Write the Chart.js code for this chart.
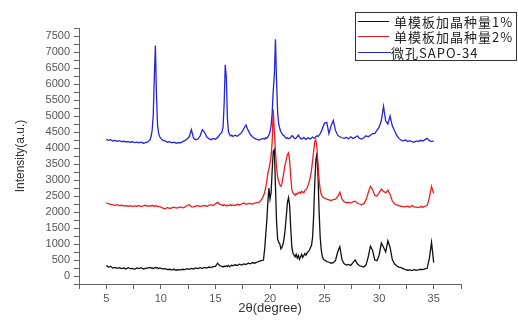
<!DOCTYPE html>
<html>
<head>
<meta charset="utf-8">
<script src="https://cdn.jsdelivr.net/npm/chart.js@4.4.1/dist/chart.umd.min.js"></script>
<style>
  html, body { margin: 0; padding: 0; background: #fff; }
  #wrap { width: 518px; height: 325px; position: relative; }
</style>
</head>
<body>
<div id="wrap"><canvas id="c" width="518" height="325"></canvas></div>
<script>
// 2θ angles (degrees)
const angles = [
  5.0,5.2,5.4,5.6,5.8,6.0,6.2,6.4,6.6,6.8,7.0,7.2,7.4,7.6,7.8,8.0,8.2,8.4,8.6,8.8,
  9.0,9.1,9.2,9.3,9.4,9.5,9.6,9.7,9.8,9.9,
  10.0,10.2,10.4,10.6,10.8,11.0,11.2,11.4,11.6,11.8,12.0,12.2,12.4,12.6,12.8,13.0,13.2,13.4,13.6,13.8,14.0,14.2,14.4,14.6,14.8,15.0,15.2,15.4,
  15.6,15.7,15.8,15.9,16.0,16.1,16.2,16.3,16.4,16.5,
  16.6,16.8,17.0,17.2,17.4,17.6,17.8,18.0,18.2,18.4,18.6,18.8,19.0,19.2,
  19.4,19.5,19.6,19.7,19.8,19.9,
  20.0,20.1,20.2,20.3,20.4,20.5,20.6,20.7,20.8,20.9,
  21.0,21.1,21.2,21.3,21.4,21.5,21.6,21.7,21.8,21.9,
  22.0,22.1,22.2,22.3,22.4,22.5,22.6,22.7,22.8,22.9,
  23.0,23.1,23.2,23.3,23.4,23.5,23.6,23.7,23.8,23.9,
  24.0,24.1,24.2,24.3,24.4,24.5,24.6,24.7,24.8,24.9,
  25.0,25.2,25.4,25.6,25.8,26.0,26.2,26.4,26.6,26.8,
  27.0,27.2,27.4,27.6,27.8,28.0,28.2,28.4,28.6,28.8,
  29.0,29.2,29.4,29.6,29.8,30.0,30.2,30.4,30.6,30.8,
  31.0,31.2,31.4,31.6,31.8,32.0,32.2,32.4,32.6,32.8,
  33.0,33.2,33.4,33.6,33.8,34.0,34.2,34.4,34.6,34.8,
  35.0
];

// 单模板加晶种量1% (black)
const seed1 = [
  330,280,300,250,270,240,260,230,250,220,260,230,240,210,250,230,260,220,240,250,
  270,240,260,230,250,270,240,260,230,250,
  240,220,230,200,210,190,210,180,200,190,210,200,230,210,240,220,250,230,260,240,270,250,280,260,290,300,400,320,
  300,280,310,290,320,300,330,290,310,340,
  320,350,330,370,340,380,360,400,380,420,400,430,460,480,
  500,800,1250,1700,2300,2750,
  2400,2600,3300,3900,3950,2800,1700,1150,1050,1000,
  850,900,1000,1200,1500,1900,2300,2450,2200,1500,
  900,720,650,600,680,560,640,520,600,680,
  580,640,700,650,720,760,800,880,950,1200,
  1900,2900,3600,3850,3100,2000,1200,800,600,520,
  500,450,430,400,420,480,750,920,500,380,
  340,360,330,420,500,380,320,300,280,350,
  600,930,800,500,480,650,1030,900,750,1100,
  900,520,380,320,280,260,230,200,180,190,
  170,200,180,190,210,200,220,240,550,1050,
  420
];

// 单模板加晶种量2% (red)
const seed2 = [
  2290,2260,2240,2220,2210,2230,2200,2210,2190,2200,2180,2200,2170,2190,2180,2200,2170,2190,2210,2180,
  2200,2180,2210,2190,2170,2200,2180,2190,2170,2160,
  2150,2120,2100,2140,2110,2130,2150,2120,2140,2160,2130,2150,2200,2230,2170,2160,2180,2200,2170,2190,2200,2180,2210,2230,2200,2260,2300,2240,
  2220,2200,2230,2210,2190,2220,2200,2210,2230,2200,
  2220,2200,2240,2220,2250,2280,2240,2260,2270,2250,2280,2290,2310,2380,
  2500,2600,2750,2950,3200,3350,
  3500,3750,4200,5200,4500,3900,3400,3100,2950,2850,
  2800,2900,3100,3300,3500,3650,3800,3850,3600,3100,
  2700,2600,2560,2520,2580,2550,2600,2620,2580,2650,
  2620,2600,2680,2700,2750,2850,2950,3100,3300,3600,
  3900,4200,4250,4000,3500,3000,2700,2550,2480,2450,
  2440,2400,2380,2360,2390,2400,2480,2620,2400,2320,
  2290,2300,2280,2320,2340,2280,2250,2230,2260,2380,
  2600,2800,2700,2520,2500,2600,2720,2650,2600,2680,
  2550,2350,2260,2220,2200,2180,2170,2160,2180,2150,
  2200,2160,2150,2140,2170,2150,2180,2200,2450,2800,
  2580
];

// 微孔SAPO-34 (blue)
const sapo34 = [
  4270,4240,4260,4220,4240,4210,4230,4200,4210,4190,4200,4180,4195,4170,4185,4160,4180,4150,4170,4190,
  4250,4350,4550,5000,6200,7200,5600,4700,4450,4350,
  4300,4240,4220,4180,4200,4160,4180,4150,4170,4160,4200,4230,4280,4350,4570,4300,4260,4280,4380,4570,4500,4350,4290,4260,4300,4270,4330,4420,
  4500,4650,5400,6600,6200,4900,4500,4420,4380,4400,
  4360,4400,4370,4420,4480,4600,4720,4550,4420,4350,4300,4270,4250,4280,
  4300,4280,4320,4300,4350,4400,
  4500,4700,5100,5800,6300,7400,6100,5100,4750,4600,
  4500,4450,4400,4380,4330,4300,4320,4290,4310,4330,
  4380,4370,4320,4290,4310,4360,4400,4340,4300,4280,
  4300,4330,4300,4270,4290,4320,4300,4280,4310,4340,
  4320,4300,4350,4380,4360,4400,4450,4520,4600,4700,
  4780,4800,4450,4700,4860,4550,4400,4350,4320,4300,
  4330,4290,4350,4300,4330,4380,4300,4280,4320,4380,
  4350,4400,4450,4450,4550,4650,4850,5300,4850,4750,
  5000,4700,4550,4400,4300,4250,4220,4260,4200,4230,
  4200,4180,4220,4200,4240,4220,4260,4300,4230,4200,
  4220
];

const seriesNames = ['单模板加晶种量1%', '单模板加晶种量2%', '微孔SAPO-34'];
const seriesColors = ['#111111', '#ee1c1c', '#2424dc'];
const xTitle = '2θ(degree)';
const yTitle = 'Intensity(a.u.)';

function pts(vals) { return vals.map((v, i) => ({ x: angles[i], y: v })); }

const boxLegend = {
  id: 'boxLegend',
  afterDraw(chart) {
    const ctx = chart.ctx;
    ctx.save();
    ctx.strokeStyle = '#333';
    ctx.lineWidth = 1;
    ctx.strokeRect(355.5, 12.5, 161, 48);
    const rows = [21, 36, 52];
    const lineEnd = [389, 389, 391];
    const textX = [394, 394, 391];
    ctx.font = '13px "Noto Sans CJK SC", sans-serif';
    ctx.textBaseline = 'middle';
    ctx.textAlign = 'left';
    try { ctx.letterSpacing = '1px'; } catch (e) {}
    for (let i = 0; i < seriesNames.length; i++) {
      ctx.strokeStyle = seriesColors[i];
      ctx.lineWidth = 1;
      ctx.beginPath();
      ctx.moveTo(358, rows[i] + 0.5);
      ctx.lineTo(lineEnd[i], rows[i] + 0.5);
      ctx.stroke();
      ctx.fillStyle = '#222';
      ctx.fillText(seriesNames[i], textX[i], rows[i] + 1);
    }
    ctx.restore();
  }
};

const tickFont = { family: '"Liberation Sans", Arial, sans-serif', size: 11 };
const axisColor = '#666';

new Chart(document.getElementById('c'), {
  type: 'line',
  data: {
    datasets: [
      { label: seriesNames[0], data: pts(seed1), borderColor: seriesColors[0], borderWidth: 1.3, pointRadius: 0, tension: 0, order: 2 },
      { label: seriesNames[1], data: pts(seed2), borderColor: seriesColors[1], borderWidth: 1.3, pointRadius: 0, tension: 0, order: 1 },
      { label: seriesNames[2], data: pts(sapo34), borderColor: seriesColors[2], borderWidth: 1.3, pointRadius: 0, tension: 0, order: 0 }
    ]
  },
  options: {
    responsive: false,
    animation: false,
    layout: { padding: { top: 28, right: 57, left: 0, bottom: 0 } },
    plugins: { legend: { display: false }, tooltip: { enabled: false } },
    scales: {
      x: {
        type: 'linear',
        min: 2.5, max: 37.5,
        afterFit(s) { s.height = 41; },
        border: { color: axisColor, width: 1 },
        grid: { drawOnChartArea: false, drawTicks: true, tickLength: 5, color: axisColor },
        ticks: {
          stepSize: 2.5, autoSkip: false, maxRotation: 0, padding: 3,
          color: '#555', font: tickFont,
          callback: v => (v % 5 === 0 ? String(v) : '')
        },
        title: { display: true, text: xTitle, color: '#333', font: { family: '"Liberation Sans", Arial, sans-serif', size: 13 }, padding: { top: 0, bottom: 9 } }
      },
      y: {
        type: 'linear',
        min: -250, max: 7750,
        afterFit(s) { s.width = 79; },
        border: { color: axisColor, width: 1 },
        grid: { drawOnChartArea: false, drawTicks: true, tickLength: 5, color: axisColor },
        ticks: {
          stepSize: 250, autoSkip: false, padding: 4,
          color: '#555', font: tickFont,
          callback: v => (v >= 0 && v % 500 === 0 ? String(v) : '')
        },
        title: { display: true, text: yTitle, color: '#333', font: { family: '"Liberation Sans", Arial, sans-serif', size: 12 }, padding: { top: 13, bottom: 0 } }
      }
    }
  },
  plugins: [boxLegend]
});
</script>
</body>
</html>
